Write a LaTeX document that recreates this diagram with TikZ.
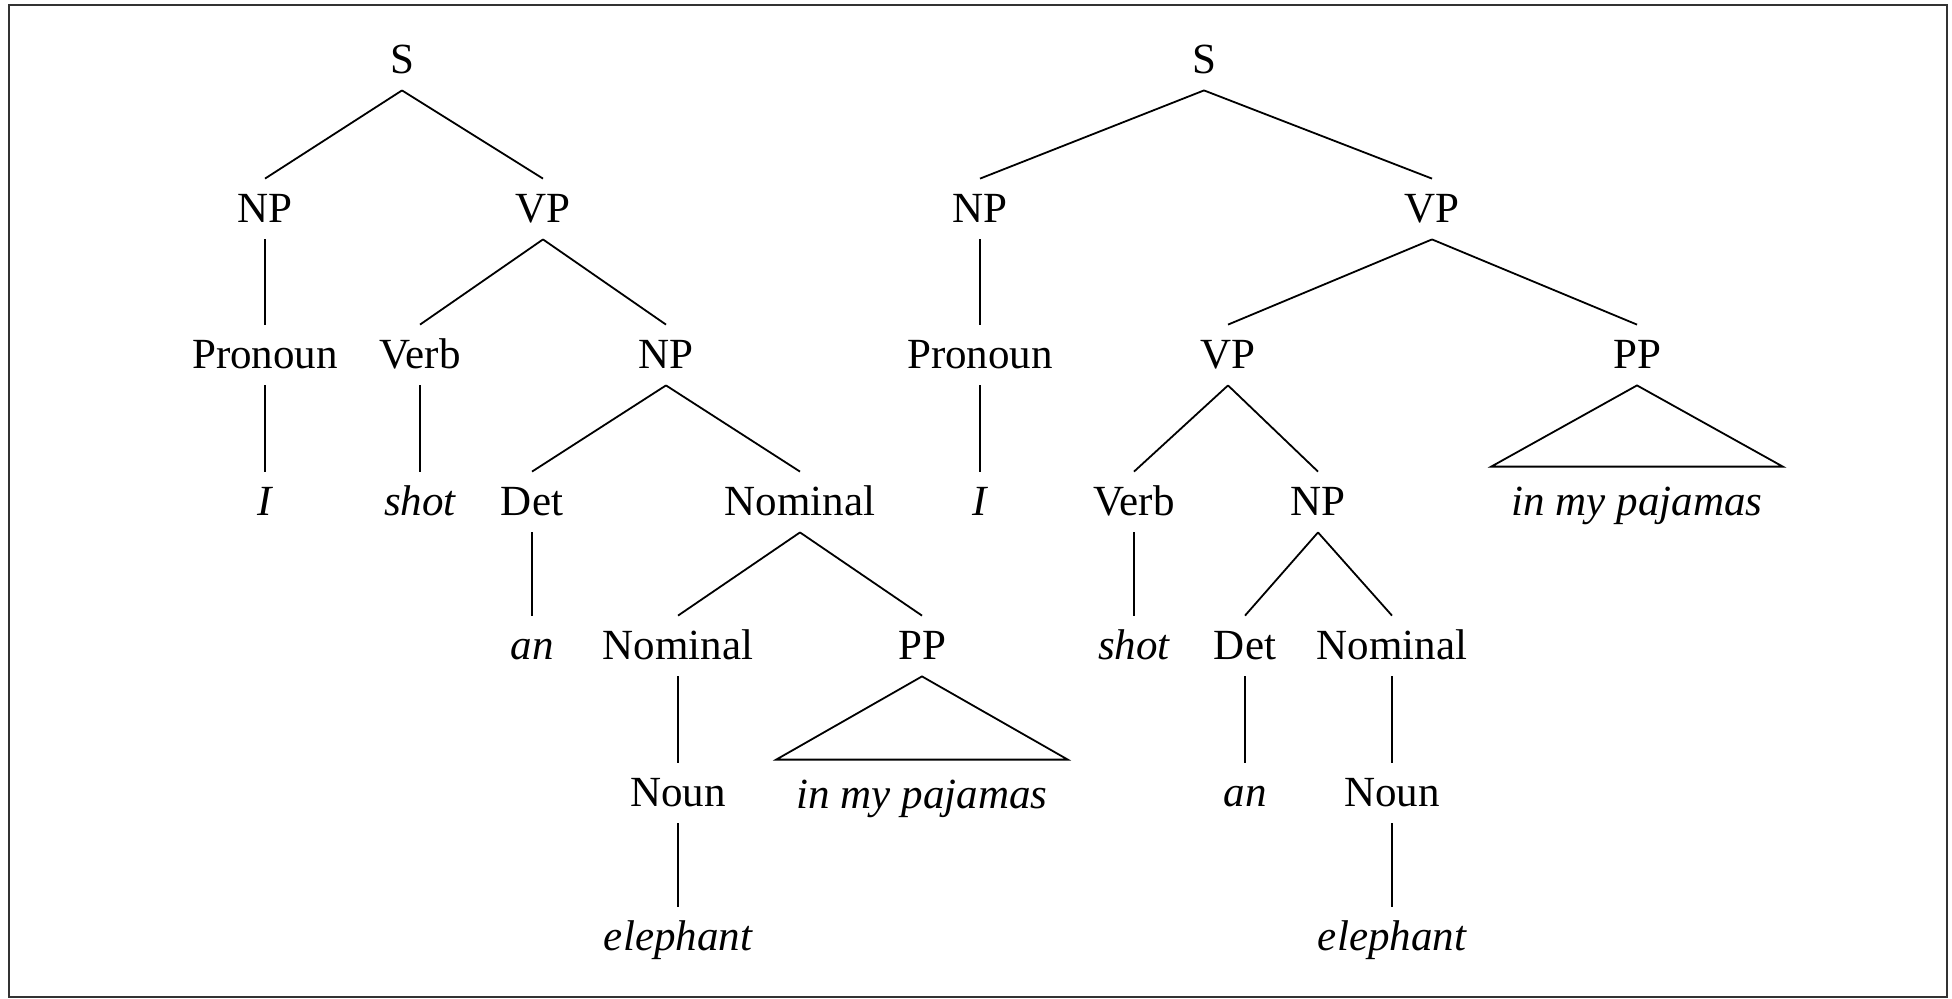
\documentclass[tikz,border=0pt]{standalone}
\usepackage{fontspec}
\setmainfont{Liberation Serif}
\usepackage{tikz}

\tikzset{
  cat/.style={font=\fontsize{21.5}{24}\selectfont, inner sep=0pt, text height=21.5pt, text depth=8.5pt},
  word/.style={cat, font=\fontsize{21.5}{24}\selectfont\itshape},
  edge/.style={line width=0.9pt},
}

\begin{document}
\begin{tikzpicture}[x=0.5pt, y=-0.5pt]
  \useasboundingbox (0,0) rectangle (1952,998);
  % 枠
  \draw[black!80, line width=1.1pt] (9,5) rectangle (1947,997);

  % 左の木: PP が Nominal にかかる
  \node[cat] (lS) at (402,60) {S};
  \node[cat] (lNP) at (265,209) {NP};
  \node[cat] (lVP) at (543,209) {VP};
  \node[cat] (lPron) at (265,355) {Pronoun};
  \node[cat] (lVerb) at (420,355) {Verb};
  \node[cat] (lNPb) at (666,355) {NP};
  \node[word] (lI) at (265,502) {I};
  \node[word] (lShot) at (420,502) {shot};
  \node[cat] (lDet) at (532,502) {Det};
  \node[cat] (lNom) at (800,502) {Nominal};
  \node[word] (lAn) at (532,646) {an};
  \node[cat] (lNomb) at (678,646) {Nominal};
  \node[cat] (lPP) at (922,646) {PP};
  \node[cat] (lNoun) at (678,793) {Noun};
  \node[word] (lPj) at (922,795) {in my pajamas};
  \node[word] (lEleph) at (678,937) {elephant};

  % 右の木: PP が VP にかかる
  \node[cat] (rS) at (1204,60) {S};
  \node[cat] (rNP) at (980,209) {NP};
  \node[cat] (rVP) at (1432,209) {VP};
  \node[cat] (rPron) at (980,355) {Pronoun};
  \node[cat] (rVPb) at (1228,355) {VP};
  \node[cat] (rPP) at (1637,355) {PP};
  \node[word] (rI) at (980,502) {I};
  \node[cat] (rVerb) at (1134,502) {Verb};
  \node[cat] (rNPb) at (1318,502) {NP};
  \node[word] (rPj) at (1637,502) {in my pajamas};
  \node[word] (rShot) at (1134,646) {shot};
  \node[cat] (rDet) at (1245,646) {Det};
  \node[cat] (rNom) at (1392,646) {Nominal};
  \node[word] (rAn) at (1245,793) {an};
  \node[cat] (rNoun) at (1392,793) {Noun};
  \node[word] (rEleph) at (1392,937) {elephant};

  % 枝
  \foreach \a/\b in {lS/lNP, lS/lVP, lNP/lPron, lPron/lI, lVP/lVerb, lVP/lNPb,
      lVerb/lShot, lNPb/lDet, lNPb/lNom, lDet/lAn, lNom/lNomb, lNom/lPP,
      lNomb/lNoun, lNoun/lEleph,
      rS/rNP, rS/rVP, rNP/rPron, rPron/rI, rVP/rVPb, rVP/rPP, rVPb/rVerb,
      rVPb/rNPb, rVerb/rShot, rNPb/rDet, rNPb/rNom, rDet/rAn, rNom/rNoun,
      rNoun/rEleph}
    \draw[edge] (\a.south) -- (\b.north);

  % PP の三角形
  \foreach \p/\t in {lPP/lPj, rPP/rPj}
    \draw[edge] (\p.south) -- ([xshift=-10pt, yshift=2.5pt]\t.north west)
      -- ([xshift=10pt, yshift=2.5pt]\t.north east) -- cycle;
\end{tikzpicture}
\end{document}
